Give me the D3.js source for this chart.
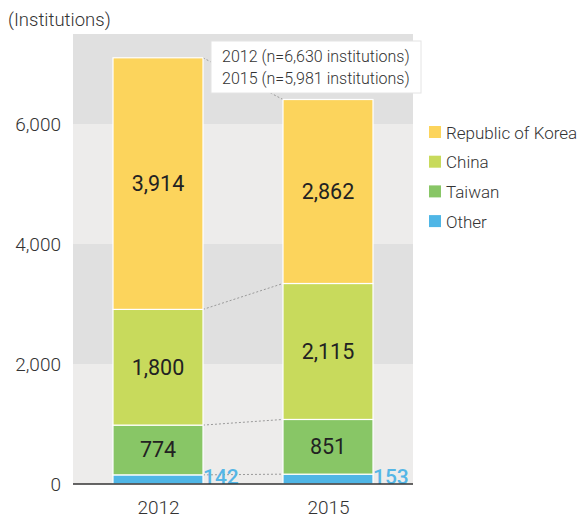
<!DOCTYPE html>
<html>
<head>
<meta charset="utf-8">
<script src="https://cdn.jsdelivr.net/npm/d3@7"></script>
<style>
  body { margin: 0; background: #fff; }
  text { font-family: Roboto, "Noto Sans", sans-serif; }
</style>
</head>
<body>
<svg id="chart" width="584" height="518"></svg>
<script>
// data
const years = ["2012", "2015"];
const groups = ["Other", "Taiwan", "China", "Republic of Korea"];
const other = [142, 153];
const taiwan = [774, 851];
const china = [1800, 2115];
const korea = [3914, 2862];
const totals = ["6,630", "5,981"];
const yTicks = [0, 2000, 4000, 6000];

const colors = {
    "Republic of Korea": "#fcd45c",
    "China": "#c8da5c",
    "Taiwan": "#88c666",
    "Other": "#4fb6e6"
};

function makeChart() {
    const svg = d3.select("#chart");
    const left = 73, right = 413, top = 34, bottom = 484;

    // rows for d3.stack
    let rows = years.map((y, i) => ({
        year: y, "Other": other[i], "Taiwan": taiwan[i],
        "China": china[i], "Republic of Korea": korea[i]
    }));
    let series = d3.stack().keys(groups)(rows);

    let scX = d3.scalePoint().domain(years).range([left, right]).padding(0.5);
    // the original draws bars and the tick grid on slightly different scales
    let scY = d3.scaleLinear().domain([0, 7000]).range([bottom, top]);
    let scAxis = d3.scaleLinear().domain([0, 7500]).range([bottom, top]);
    const barW = 90;

    // background bands
    let bands = [[0, 2000, "#edeceb"], [2000, 4000, "#e0e0e0"],
                 [4000, 6000, "#edeceb"], [6000, 7500, "#e0e0e0"]];
    svg.append("g").selectAll("rect").data(bands).enter().append("rect")
        .attr("x", left).attr("width", right - left)
        .attr("y", d => scAxis(d[1]))
        .attr("height", d => scAxis(d[0]) - scAxis(d[1]))
        .attr("fill", d => d[2]);

    // dotted connectors between segment tops
    svg.append("g").selectAll("line").data(series).enter().append("line")
        .attr("x1", scX(years[0]) + barW / 2).attr("y1", d => scY(d[0][1]))
        .attr("x2", scX(years[1]) - barW / 2).attr("y2", d => scY(d[1][1]))
        .attr("stroke", "#9a9a9a").attr("stroke-width", 1)
        .attr("stroke-dasharray", "2,2");

    // stacked bars
    let g = svg.append("g").selectAll("g").data(series).enter().append("g")
        .attr("fill", d => colors[d.key]);
    g.selectAll("rect").data(d => d).enter().append("rect")
        .attr("x", d => scX(d.data.year) - barW / 2)
        .attr("width", barW)
        .attr("y", d => scY(d[1]))
        .attr("height", d => scY(d[0]) - scY(d[1]))
        .attr("stroke", "#fff").attr("stroke-width", 1.2);

    // labels inside bars
    series.filter(s => s.key != "Other").forEach(s => {
        svg.append("g").selectAll("text").data(s).enter().append("text")
            .attr("x", d => scX(d.data.year))
            .attr("y", d => (scY(d[0]) + scY(d[1])) / 2 + 7.5)
            .attr("text-anchor", "middle")
            .attr("font-size", 21.5).attr("font-weight", 400).attr("fill", "#222")
            .text(d => d3.format(",")(d[1] - d[0]));
    });
    // "Other" labels beside bars
    svg.append("g").selectAll("text").data(series[0]).enter().append("text")
        .attr("x", d => scX(d.data.year) + barW / 2)
        .attr("y", bottom)
        .attr("font-size", 21).attr("font-weight", 500).attr("fill", "#55b6e6")
        .text(d => d[1] - d[0]);

    // baseline
    svg.append("line").attr("x1", left).attr("x2", right)
        .attr("y1", bottom).attr("y2", bottom)
        .attr("stroke", "#333").attr("stroke-width", 1.5);

    // y axis labels
    let yAxis = d3.axisLeft(scAxis).tickValues(yTicks)
        .tickFormat(d3.format(",")).tickSize(0).tickPadding(12);
    let ya = svg.append("g").attr("transform", `translate(${left},0)`).call(yAxis);
    ya.select(".domain").remove();
    ya.selectAll("text").attr("font-size", 19).attr("fill", "#333")
        .attr("font-weight", 300).attr("font-family", "Roboto, sans-serif");

    // x axis labels
    let xAxis = d3.axisBottom(scX).tickSize(0).tickPadding(17);
    let xa = svg.append("g").attr("transform", `translate(0,${bottom})`).call(xAxis);
    xa.select(".domain").remove();
    xa.selectAll("text").attr("font-size", 19).attr("fill", "#333")
        .attr("font-weight", 300).attr("font-family", "Roboto, sans-serif");

    svg.append("text").attr("x", 8).attr("y", 26)
        .attr("font-size", 18.5).attr("font-weight", 300).attr("fill", "#333")
        .text("(Institutions)");

    // annotation box
    svg.append("rect").attr("x", 211).attr("y", 41).attr("width", 210).attr("height", 52)
        .attr("fill", "#fff").attr("stroke", "#e4e4e4");
    svg.append("g").selectAll("text").data(years).enter().append("text")
        .attr("x", 222).attr("y", (d, i) => 62 + i * 22)
        .attr("font-size", 16).attr("font-weight", 300).attr("fill", "#333")
        .text((d, i) => `${d} (n=${totals[i]} institutions)`);

    // legend
    let leg = svg.append("g").selectAll("g").data(groups.slice().reverse()).enter().append("g")
        .attr("transform", (d, i) => `translate(429,${126 + i * 29.7})`);
    leg.append("rect").attr("width", 12).attr("height", 12).attr("fill", d => colors[d]);
    leg.append("text").attr("x", 17).attr("y", 12.5)
        .attr("font-size", 17).attr("font-weight", 300).attr("fill", "#333").text(d => d);
}
makeChart();
</script>
</body>
</html>
